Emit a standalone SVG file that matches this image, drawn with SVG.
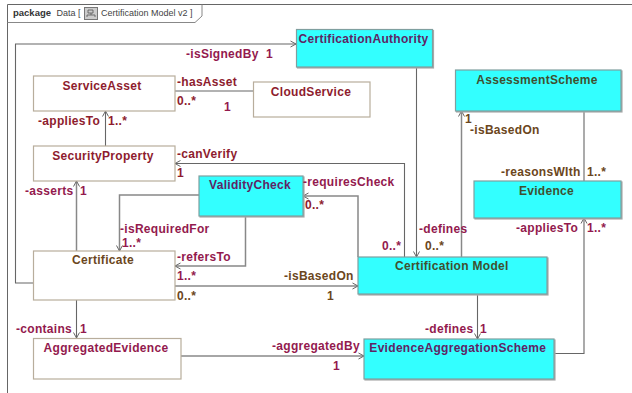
<svg xmlns="http://www.w3.org/2000/svg" width="632" height="393" viewBox="0 0 632 393">
<style>
text{font-family:"Liberation Sans",Arial,sans-serif;font-size:12px;font-weight:bold;letter-spacing:.3px}
.plain{fill:#fff;stroke:#b8ad9c;stroke-width:1.2}
.cyan{fill:#33ffff;stroke:#7f9f9f;stroke-width:1.2;filter:drop-shadow(1.5px 1.5px 0.5px #aaa)}
.c{fill:none;stroke:#666;stroke-width:1.1}
.l{stroke:#888;stroke-width:1.5}
.r{fill:#8e1c2e}.m{fill:#931a4e}.b{fill:#6b4620}.p{fill:#5f2464}.g{fill:#3f5030}.a{text-anchor:middle}
</style>
<defs>
<marker id="arr" markerWidth="8" markerHeight="8" refX="6.500" refY="4" orient="auto" markerUnits="userSpaceOnUse"><path d="M1 1L6.500 4L1 7" fill="none" stroke="#666" stroke-width="1"/></marker>
</defs>
<rect width="632" height="393" fill="#fff"/>
<g id="frame">
<path d="M632 4.500H7.500V393" fill="none" stroke="#666" stroke-width="1"/>
<path d="M7.500 22.500H195L202 16V4.500" fill="none" stroke="#888" stroke-width="1"/>
<text x="13" y="16" style="font-size:9.500px;letter-spacing:0;fill:#333">package</text>
<text x="56.500" y="16" style="font-size:9px;letter-spacing:0;font-weight:normal;fill:#444">Data [</text>
<g><rect x="84.500" y="7.500" width="13" height="12" fill="#ccc" stroke="#777"/><path d="M88 10h5v3h-5zM91 13v2M87 15h8v2M87 15v2" fill="none" stroke="#555" stroke-width=".8"/></g>
<text x="101" y="16" style="font-size:9px;letter-spacing:0;font-weight:normal;fill:#444">Certification Model v2 ]</text>
</g>
<g id="connectors">
<path class="c" marker-end="url(#arr)" d="M33.500 283H15.500V44H296"/>
<path class="c" d="M175 91H253.500"/>
<path class="c" marker-end="url(#arr)" d="M105.500 146V111"/>
<path class="c l" marker-end="url(#arr)" d="M76.500 251V181"/>
<path class="c l" marker-end="url(#arr)" d="M199 195H119.500V251"/>
<path class="c l" marker-end="url(#arr)" d="M245.500 216V266H175"/>
<path class="c l" marker-end="url(#arr)" d="M175 286H358"/>
<path class="c" marker-end="url(#arr)" d="M76.500 300V338"/>
<path class="c l" marker-end="url(#arr)" d="M181 356H364"/>
<path class="c" marker-end="url(#arr)" d="M404.500 257V163.500H175"/>
<path class="c l" marker-end="url(#arr)" d="M358 257V196H303"/>
<path class="c" marker-end="url(#arr)" d="M416.500 67V257"/>
<path class="c l" marker-end="url(#arr)" d="M461.500 257V111"/>
<path class="c" d="M584 111V181"/>
<path class="c" marker-end="url(#arr)" d="M477.500 294V339"/>
<path class="c" marker-end="url(#arr)" d="M554 353.500H584V218"/>
</g>
<g id="CertificationAuthority"><rect class="cyan" x="296.500" y="29.500" width="136" height="37.500"/><text class="p a" x="363.500" y="43">CertificationAuthority</text></g>
<g id="ServiceAsset"><rect class="plain" x="33.500" y="76" width="141.500" height="35"/><text class="r a" x="102" y="90">ServiceAsset</text></g>
<g id="CloudService"><rect class="plain" x="253.500" y="82" width="116.500" height="35"/><text class="r a" x="311" y="96">CloudService</text></g>
<g id="SecurityProperty"><rect class="plain" x="33.500" y="146" width="141.500" height="35"/><text class="r a" x="103" y="160">SecurityProperty</text></g>
<g id="ValidityCheck"><rect class="cyan" x="199" y="176" width="104" height="40"/><text class="p a" x="250" y="189">ValidityCheck</text></g>
<g id="Certificate"><rect class="plain" x="33.500" y="251" width="141.500" height="49"/><text class="b a" x="103" y="264">Certificate</text></g>
<g id="AggregatedEvidence"><rect class="plain" x="33.500" y="338.500" width="147.500" height="40.500"/><text class="m a" x="106" y="352">AggregatedEvidence</text></g>
<g id="CertificationModel"><rect class="cyan" x="358" y="257" width="189" height="37"/><text class="g a" x="451.800" y="270">Certification Model</text></g>
<g id="EvidenceAggregationScheme"><rect class="cyan" x="364" y="339" width="190" height="40"/><text class="p a" x="457.800" y="352">EvidenceAggregationScheme</text></g>
<g id="AssessmentScheme"><rect class="cyan" x="455.500" y="70" width="165.500" height="41"/><text class="g a" x="537" y="84">AssessmentScheme</text></g>
<g id="Evidence"><rect class="cyan" x="474" y="181" width="147" height="37"/><text class="g a" x="546.500" y="195">Evidence</text></g>
<g id="labels">
<text class="m" x="186" y="58">-isSignedBy</text><text class="m" x="266" y="58">1</text>
<text class="r" x="177" y="86">-hasAsset</text><text class="r" x="177" y="105">0..*</text><text class="m" x="224" y="111">1</text>
<text class="r" x="38" y="125">-appliesTo</text><text class="r" x="108" y="125">1..*</text>
<text class="r" x="177" y="158">-canVerify</text><text class="r" x="177" y="177">1</text>
<text class="m" x="25" y="195">-asserts</text><text class="m" x="80" y="195">1</text>
<text class="m" x="303" y="186">-requiresCheck</text><text class="r" x="305" y="209">0..*</text>
<text class="m" x="120" y="232.500">-isRequiredFor</text><text class="m" x="122" y="246.500">1..*</text>
<text class="m" x="177" y="261">-refersTo</text><text class="m" x="177" y="280">1..*</text>
<text class="b" x="177" y="300">0..*</text>
<text class="b" x="284" y="280">-isBasedOn</text><text class="b" x="327" y="300">1</text>
<text class="m" x="16" y="333">-contains</text><text class="m" x="80" y="333">1</text>
<text class="m" x="272" y="350">-aggregatedBy</text><text class="m" x="333" y="370">1</text>
<text class="m" x="419" y="233">-defines</text><text class="m" x="382" y="250">0..*</text><text class="b" x="425" y="250">0..*</text>
<text class="b" x="465" y="123">1</text><text class="b" x="470" y="134">-isBasedOn</text>
<text class="b" x="501" y="176">-reasonsWIth</text><text class="b" x="587" y="176">1..*</text>
<text class="m" x="516" y="232">-appliesTo</text><text class="m" x="587" y="232">1..*</text>
<text class="m" x="425" y="333">-defines</text><text class="m" x="480" y="333">1</text>
</g>
</svg>
